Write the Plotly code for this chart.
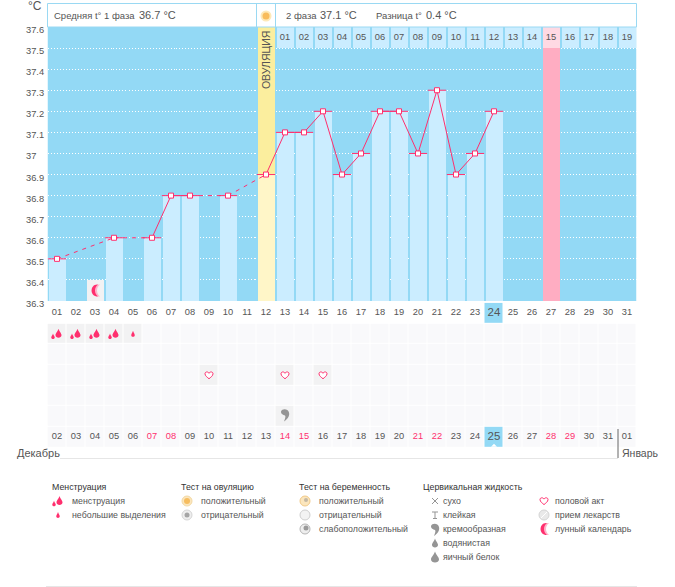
import plotly.graph_objects as go

# size of the page
W = 675
H = 587

# temperature data
days = [1, 4, 6, 7, 8, 10, 12, 13, 14, 15, 16, 17, 18, 19, 20, 21, 22, 23, 24]
temps = [36.5, 36.6, 36.6, 36.8, 36.8, 36.8, 36.9, 37.1, 37.1, 37.2, 36.9, 37.0,
         37.2, 37.2, 37.0, 37.3, 36.9, 37.0, 37.2]
all_days = list(range(1, 32))
ovulation_day = 12
peak_day = 27
moon_day = 3
today_day = 24

# labels
cycle_days = list(range(13, 32))
cycle_labels = ["%02d" % i for i in range(1, 20)]
day_labels = ["%02d" % i for i in all_days]
date_labels = ["%02d" % i for i in range(2, 32)] + ["01"]
red_dates = ["07", "08", "14", "15", "21", "22", "28", "29"]
y_ticks = [37.6, 37.5, 37.4, 37.3, 37.2, 37.1, 37.0, 36.9, 36.8, 36.7, 36.6, 36.5, 36.4, 36.3]
y_labels = ["37.6", "37.5", "37.4", "37.3", "37.2", "37.1", "37", "36.9", "36.8",
            "36.7", "36.6", "36.5", "36.4", "36.3"]

# symptom rows under the chart
flow_days = [1, 2, 3, 4]
spot_days = [5]
heart_days = [9, 13, 15]
cream_days = [13]

FONT = "Liberation Sans"
TEXT = "#555555"
PINK = "#ff2f6e"
SKY = "#93d9f5"
LIGHT = "#cbedff"
GRAY = "#959595"
BAR_W = 0.9  # leaves the 1px gap between columns


def px(x):
    return x / W


def py(y):
    return 1 - y / H


# icon paths, in pixels around an anchor, y goes up
def drop(cx, cy, w, h):
    return "M%g,%g C%g,%g %g,%g %g,%g C%g,%g %g,%g %g,%g C%g,%g %g,%g %g,%g Z" % (
        cx, cy + h / 2,
        cx + w * 0.2, cy + h * 0.1, cx + w / 2, cy, cx + w / 2, cy - h * 0.22,
        cx + w / 2, cy - h * 0.58, cx - w / 2, cy - h * 0.58, cx - w / 2, cy - h * 0.22,
        cx - w / 2, cy, cx - w * 0.2, cy + h * 0.1, cx, cy + h / 2,
    )


HEART = "M0,-3.6 C-1.5,-2.2 -4,-0.8 -4,1.4 C-4,3.6 -1,3.8 0,1.9 C1,3.8 4,3.6 4,1.4 C4,-0.8 1.5,-2.2 0,-3.6 Z"
CREAM = "M-4,3 C-3,6 3,6 4,2 C5,-2 2,-5 -1,-7 C0,-4 1,-2 0,-1 C-2,0 -4,0 -4,3 Z"
MOON = "M3,6 C-5,7 -6,-6 3,-6 C-1,-3 -1,3 3,6 Z"
MOON_SOFT = "M5,6 C-4,7 -5,-6 5,-6 C1,-3 1,3 5,6 Z"
FLOW = [drop(1.5, 0.5, 6, 9), drop(-4, -2.5, 3.5, 5.5)]
SPOT = drop(0, 0, 3.5, 6)


def icon(path, xa, ya, xref="paper", yref="paper", fill=PINK, line=None, width=0):
    return dict(
        type="path", path=path, xref=xref, yref=yref, xsizemode="pixel", ysizemode="pixel",
        xanchor=xa, yanchor=ya, fillcolor=fill, layer="above",
        line=dict(color=line if line else fill, width=width),
    )


def circle(x, y, r, fill, line=None, width=0):
    return dict(
        type="circle", xref="paper", yref="paper", layer="above",
        x0=px(x - r), x1=px(x + r), y0=py(y + r), y1=py(y - r), fillcolor=fill,
        line=dict(color=line if line else fill, width=width),
    )


def hline(x0, x1, y, color):
    return dict(type="line", xref="paper", yref="paper", x0=px(x0), x1=px(x1), y0=py(y), y1=py(y),
                layer="above", line=dict(color=color, width=1))


def note(text, x, y, size=8.8, color=TEXT, anchor="left", **kw):
    return dict(
        text=text, x=px(x - 2), y=py(y), xref="paper", yref="paper", xanchor=anchor, yanchor="middle",
        showarrow=False, font=dict(family=FONT, size=size, color=color), **kw,
    )


def bar_marker(color):
    return dict(color=color, line_width=0)


fig = go.Figure()

# day 3 cell with the moon, day 27 column, header cells
bar_days = [d for d in days if d != ovulation_day]
bar_temps = [t for d, t in zip(days, temps) if d != ovulation_day]
fig.add_trace(go.Bar(x=bar_days, y=[t - 36.3 for t in bar_temps], base=36.3, width=BAR_W,
                     marker=bar_marker(LIGHT)))
fig.add_trace(go.Bar(x=[moon_day], y=[0.1], base=36.3, width=BAR_W, marker=bar_marker("#f2f2f3")))
ov_temp = temps[days.index(ovulation_day)]
fig.add_trace(go.Bar(x=[ovulation_day], y=[ov_temp - 36.3], base=36.3, width=BAR_W,
                     marker=bar_marker("#fff6c8")))
fig.add_trace(go.Bar(x=[ovulation_day], y=[37.6 - ov_temp], base=ov_temp, width=BAR_W,
                     marker=bar_marker("#fbee9e")))
fig.add_trace(go.Bar(x=[peak_day], y=[1.2], base=36.3, width=BAR_W, marker=bar_marker("#ffadc2")))
fig.add_trace(go.Bar(x=cycle_days, y=[0.1] * len(cycle_days), base=37.5, width=BAR_W,
                     marker=bar_marker(["#ffd9e3" if d == peak_day else LIGHT for d in cycle_days])))

# lines: solid between neighbour days, dashed over gaps
solid_x, solid_y, dash_x, dash_y = [], [], [], []
for i in range(len(days) - 1):
    if days[i + 1] - days[i] == 1:
        solid_x += [days[i], days[i + 1], None]
        solid_y += [temps[i], temps[i + 1], None]
    else:
        dash_x += [days[i], days[i + 1], None]
        dash_y += [temps[i], temps[i + 1], None]
fig.add_trace(go.Scatter(x=solid_x, y=solid_y, mode="lines", line=dict(color=PINK, width=1)))
fig.add_trace(go.Scatter(x=dash_x, y=dash_y, mode="lines",
                         line=dict(color=PINK, width=1, dash="4px,5px")))
fig.add_trace(go.Scatter(
    x=days, y=temps, mode="markers",
    marker=dict(symbol="square", size=5, color="white", line=dict(color=PINK, width=1)),
    error_x=dict(type="constant", value=0.48, color=PINK, thickness=1, width=0),
))

# cycle numbers in the header cells
fig.add_trace(go.Scatter(x=cycle_days, y=[37.55] * len(cycle_days), mode="text", text=cycle_labels,
                         textfont=dict(family=FONT, size=9.3, color=TEXT)))

# table under the chart
rows = [[0] * 31 for _ in range(7)]
for r in range(1, 7):
    rows[r] = [1] * 31
for d in flow_days + spot_days:
    rows[1][d - 1] = 2
for d in heart_days:
    rows[3][d - 1] = 2
for d in cream_days:
    rows[5][d - 1] = 2
rows[0][today_day - 1] = 3
rows[6][today_day - 1] = 3
fig.add_trace(go.Heatmap(
    x=all_days, y=list(range(7)), z=rows, yaxis="y2", xgap=1, ygap=1, showscale=False, zmin=0, zmax=3,
    colorscale=[[0, "#ffffff"], [1 / 3, "#f9f9fb"], [2 / 3, "#f2f2f3"], [1, SKY]], hoverinfo="skip",
))
fig.add_trace(go.Scatter(x=all_days, y=[0] * 31, yaxis="y2", mode="text", text=day_labels,
                         textfont=dict(family=FONT, size=[11.5 if d == today_day else 9.3 for d in all_days],
                                       color=TEXT)))
fig.add_trace(go.Scatter(x=all_days, y=[6] * 31, yaxis="y2", mode="text", text=date_labels,
                         textfont=dict(family=FONT, size=[11.5 if d == today_day else 9.3 for d in all_days],
                                       color=[PINK if t in red_dates else TEXT for t in date_labels])))

shapes = [
    # sky background of the chart, the table below stays white
    dict(type="rect", xref="x", yref="y", x0=0.5, x1=31.5, y0=36.3, y1=37.6, fillcolor=SKY,
         layer="below", line_width=0),
    # header box
    dict(type="rect", xref="paper", yref="paper", x0=px(47.5), x1=px(636.5), y0=py(27), y1=py(3.5),
         fillcolor="white", line=dict(color="#9ad9f3", width=1)),
    dict(type="line", xref="paper", yref="paper", x0=px(256.5), x1=px(256.5), y0=py(27), y1=py(3.5),
         line=dict(color="#9ad9f3", width=1)),
    dict(type="line", xref="paper", yref="paper", x0=px(275.5), x1=px(275.5), y0=py(27), y1=py(3.5),
         line=dict(color="#9ad9f3", width=1)),
    circle(266, 16, 5.5, "#fde9b8"),
    circle(266, 16, 3.5, "#f8bc5c"),
    # lines at the bottom
    hline(60, 618, 458.5, "#e6e6e6"),
    hline(46, 637, 586.5, "#e6e6e6"),
    dict(type="line", xref="paper", yref="paper", x0=px(618), x1=px(618), y0=py(429), y1=py(458),
         layer="above", line=dict(color="#666666", width=1)),
    # legend round icons
    circle(187, 501, 5, "#fbe6bd", "#f3d9a4", 1), circle(187, 501, 3, "#f6bd60"),
    circle(187, 515, 5, "#eeeeee", "#d5d5d5", 1), circle(187, 515, 2.5, "#a5a5a5"),
    circle(305, 501, 5, "#fbe6bd", "#f1c988", 1), circle(306, 500, 2, "#c4b9a4"),
    circle(305, 515, 5, "#f3f3f3", "#cfcfcf", 1),
    circle(305, 529, 5, "#eeeeee", "#b5b5b5", 1), circle(306, 528, 2.5, "#9a9a9a"),
    circle(544, 515, 5, "#e9e9e9", "#d5d5d5", 1),
    dict(type="line", xref="paper", yref="paper", x0=px(541), x1=px(547), y0=py(518), y1=py(512),
         layer="above", line=dict(color="#ffffff", width=1)),
    # legend lines for dry and sticky
    dict(type="line", xref="paper", yref="paper", x0=px(432), x1=px(438), y0=py(504), y1=py(498),
         layer="above", line=dict(color=GRAY, width=1)),
    dict(type="line", xref="paper", yref="paper", x0=px(432), x1=px(438), y0=py(498), y1=py(504),
         layer="above", line=dict(color=GRAY, width=1)),
    hline(432, 438, 512, GRAY),
    hline(433, 437, 518.5, GRAY),
    dict(type="line", xref="paper", yref="paper", x0=px(435), x1=px(435), y0=py(512), y1=py(518),
         layer="above", line=dict(color=GRAY, width=1)),
]

# symptom icons on their days
for d in flow_days:
    for p in FLOW:
        shapes.append(icon(p, d, 1, xref="x", yref="y2"))
for d in spot_days:
    shapes.append(icon(SPOT, d, 1, xref="x", yref="y2"))
for d in heart_days:
    shapes.append(icon(HEART, d, 3, xref="x", yref="y2", fill="white", line=PINK, width=1))
for d in cream_days:
    shapes.append(icon(CREAM, d, 4.9, xref="x", yref="y2", fill=GRAY))
shapes.append(icon(MOON_SOFT, moon_day, 36.35, xref="x", yref="y", fill="#ffb3c9"))
shapes.append(icon(MOON, moon_day, 36.35, xref="x", yref="y", fill=PINK))
# small triangle in the today cell
shapes.append(icon("M-3,-1 L3,-1 L0,2 Z", today_day, 6.42, xref="x", yref="y2", fill="white"))

# legend icons
for p in FLOW:
    shapes.append(icon(p, px(58), py(501)))
shapes.append(icon(SPOT, px(58), py(515)))
shapes.append(icon(CREAM, px(435), py(529), fill=GRAY))
shapes.append(icon(drop(0, 0, 6, 9), px(435), py(543), fill=GRAY))
shapes.append(icon(drop(0, 0, 8, 11), px(435), py(557), fill=GRAY))
shapes.append(icon(HEART, px(544), py(501), fill="white", line=PINK, width=1))
shapes.append(icon(MOON_SOFT, px(544), py(529), fill="#ffb3c9"))
shapes.append(icon(MOON, px(544), py(529), fill=PINK))

annotations = [
    note("°C", 28, 6, size=12),
    note("Средняя t° 1 фаза", 54, 15.5, size=9.5),
    note("36.7 °C", 139, 15.5, size=11),
    note("2 фаза", 286, 15.5, size=9.5),
    note("37.1 °C", 320, 15.5, size=11),
    note("Разница t°", 376, 15.5, size=9.5),
    note("0.4 °C", 426, 15.5, size=11),
    note("Декабрь", 17, 453, size=11),
    note("Январь", 622, 453, size=10.5),
    note("Менструация", 52, 487, color="#333333"),
    note("менструация", 72, 501),
    note("небольшие выделения", 72, 515),
    note("Тест на овуляцию", 181, 487, color="#333333"),
    note("положительный", 201, 501),
    note("отрицательный", 201, 515),
    note("Тест на беременность", 299, 487, color="#333333"),
    note("положительный", 319, 501),
    note("отрицательный", 319, 515),
    note("слабоположительный", 319, 529),
    note("Цервикальная жидкость", 423, 487, color="#333333"),
    note("сухо", 443, 501),
    note("клейкая", 443, 515),
    note("кремообразная", 443, 529),
    note("водянистая", 443, 543),
    note("яичный белок", 443, 557),
    note("половой акт", 555, 501),
    note("прием лекарств", 555, 515),
    note("лунный календарь", 555, 529),
    dict(text="ОВУЛЯЦИЯ", x=ovulation_day, y=37.443, xref="x", yref="y", textangle=-90, showarrow=False,
         yanchor="middle", font=dict(family=FONT, size=10.5, color="#555555")),
]
# y labels are left aligned in the picture
for v, t in zip(y_ticks, y_labels):
    annotations.append(dict(text=t, x=px(24), y=v, xref="paper", yref="y", xanchor="left", yshift=-3,
                            showarrow=False, font=dict(family=FONT, size=9.3, color=TEXT)))

fig.update_layout(
    width=W,
    height=H,
    margin=dict(l=0, r=0, t=0, b=0),
    paper_bgcolor="white",
    plot_bgcolor="white",
    showlegend=False,
    barmode="overlay",
    bargap=0,
    shapes=shapes,
    annotations=annotations,
    xaxis=dict(range=[0.5, 31.5], domain=[px(47.5), px(636.5)], showgrid=False, zeroline=False,
               showticklabels=False, ticks=""),
    yaxis=dict(range=[36.3, 37.6], domain=[py(301), py(27)], tickvals=y_ticks, showticklabels=False,
               ticks="", zeroline=False, gridcolor="white", griddash="1px,2px", gridwidth=1),
    yaxis2=dict(range=[6.5, -0.5], domain=[py(447.5), py(302.8)], visible=False, anchor="x"),
)

fig.write_html("out.html", post_script="document.body.style.margin='0';",
               config=dict(displayModeBar=False))
